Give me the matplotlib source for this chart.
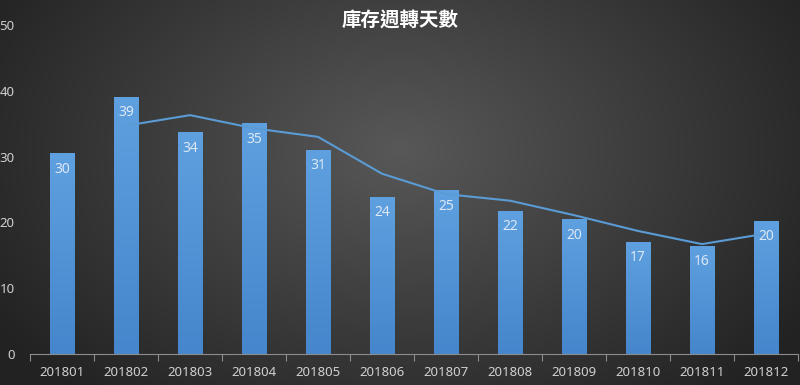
import numpy as np
import matplotlib
matplotlib.use("Agg")
import matplotlib.pyplot as plt
from matplotlib.ticker import FixedLocator

plt.rcParams['font.family'] = ['Noto Sans CJK TC', 'DejaVu Sans']

categories = ['201801', '201802', '201803', '201804', '201805', '201806',
              '201807', '201808', '201809', '201810', '201811', '201812']
values = [30.4, 39.0, 33.6, 35.0, 31.0, 23.8, 24.8, 21.7, 20.4, 17.0, 16.4, 20.2]
trend_categories = categories[1:]
trend_values = [34.7, 36.3, 34.3, 33.0, 27.4, 24.3, 23.3, 21.1, 18.7, 16.7, 18.3]
title = '庫存週轉天數'

fig = plt.figure(figsize=(8, 3.85), dpi=100)

# radial gradient background
bg = fig.add_axes([0, 0, 1, 1], zorder=0)
yy, xx = np.mgrid[0:385, 0:800]
cx, cy = 400, 150
r = np.sqrt(((xx - cx) / 480.0) ** 2 + ((yy - cy) / 330.0) ** 2)
r = np.clip(r, 0, 1)
c0 = np.array([0x58, 0x58, 0x58]) / 255.0
c1 = np.array([0x22, 0x22, 0x22]) / 255.0
img = c0[None, None, :] * (1 - r[..., None]) + c1[None, None, :] * r[..., None]
bg.imshow(img, aspect='auto', extent=[0, 1, 0, 1], origin='upper')
bg.set_axis_off()

ax = fig.add_axes([30 / 800, 31 / 385, 768 / 800, 329 / 385], zorder=1)
ax.patch.set_alpha(0)

x = np.arange(len(categories))
width = 0.385
grad = np.linspace(0, 1, 256).reshape(-1, 1)
top_c = np.array([0x5f, 0xa0, 0xe0]) / 255.0
bot_c = np.array([0x45, 0x86, 0xcc]) / 255.0
bars = ax.bar(x, values, width=width, color='#5b9bd5', zorder=2)
for b in bars:
    x0, w, h = b.get_x(), b.get_width(), b.get_height()
    g = top_c[None, None, :] * (1 - grad[..., None]) + bot_c[None, None, :] * grad[..., None]
    ax.imshow(g, extent=[x0, x0 + w, 0, h], aspect='auto', origin='upper', zorder=2.5)

for xi, v in zip(x, values):
    ax.text(xi, v - 1.2, f'{v:.0f}', ha='center', va='top', color='#dce8f5',
            fontsize=10, zorder=4, family=['Noto Sans', 'DejaVu Sans'])

tx = [categories.index(c) for c in trend_categories]
ax.plot(tx, trend_values, color='#5b9bd5', lw=1.5, zorder=3)

ax.set_xlim(-0.5, len(categories) - 0.5)
ax.set_ylim(0, 50)
ax.set_xticks(x)
ax.set_xticklabels(categories)
ax.xaxis.set_minor_locator(FixedLocator(np.arange(-0.5, len(categories), 1.0)))
ax.tick_params(axis='x', which='major', length=0, pad=9, colors='#d0d0d0', labelsize=9.5)
ax.tick_params(axis='x', which='minor', length=5, color='#8c8c8c', width=0.8, direction='out')
ax.set_yticks([0, 10, 20, 30, 40, 50])
ax.tick_params(axis='y', length=0, pad=11, colors='#d0d0d0', labelsize=9.5)
for lab in ax.get_xticklabels() + ax.get_yticklabels():
    lab.set_family(['Noto Sans', 'DejaVu Sans'])

for s in ['top', 'right', 'left']:
    ax.spines[s].set_visible(False)
ax.spines['bottom'].set_color('#8c8c8c')
ax.spines['bottom'].set_linewidth(0.8)
ax.spines['bottom'].set_zorder(5)

fig.text(0.5, 1 - 20 / 385, title, ha='center', va='center', color='white',
         fontsize=14, fontweight='bold', family=['Noto Sans CJK TC', 'DejaVu Sans'])

fig.savefig('out.png', dpi=100)
